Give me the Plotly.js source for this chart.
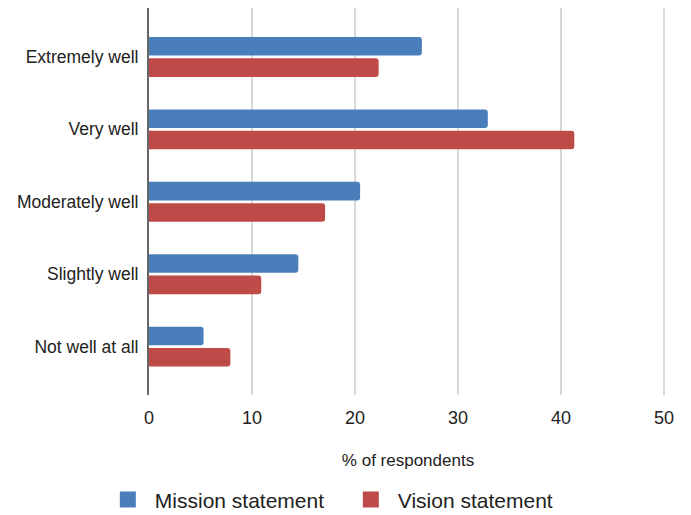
<!DOCTYPE html>
<html>
<head>
<meta charset="utf-8">
<script src="https://cdn.plot.ly/plotly-3.0.1.min.js"></script>
<style>
  html, body { margin: 0; padding: 0; background: #fff; }
  #chart { width: 691px; height: 515px; }
</style>
</head>
<body>
<div id="chart"></div>
<script>
// Survey responses: how well the statement is understood
const categories = ["Extremely well", "Very well", "Moderately well", "Slightly well", "Not well at all"];
const missionValues = [26.5, 32.9, 20.5, 14.5, 5.3];
const visionValues = [22.3, 41.3, 17.1, 10.9, 7.9];
const seriesNames = ["Mission statement", "Vision statement"];
const seriesColors = ["#4a7ebb", "#be4b48"];
const xTickValues = [0, 10, 20, 30, 40, 50];

const FONT = "Liberation Sans, Arial, Helvetica, sans-serif";

// bars
const barTraces = [missionValues, visionValues].map((vals, i) => ({
  type: "bar",
  orientation: "h",
  name: seriesNames[i],
  y: categories,
  x: vals,
  marker: { color: seriesColors[i] },
  showlegend: false,
  hoverinfo: "x+name"
}));

// square swatches for the legend
const legendTraces = seriesNames.map((name, i) => ({
  type: "scatter",
  mode: "markers",
  name: name,
  x: [null],
  y: [null],
  marker: { symbol: "square", size: 20, color: seriesColors[i] },
  hoverinfo: "skip"
}));

const layout = {
  width: 691,
  height: 515,
  margin: { l: 149, r: 24, t: 8, b: 120, autoexpand: false },
  paper_bgcolor: "#ffffff",
  plot_bgcolor: "#ffffff",
  barmode: "group",
  bargap: 0.41,
  bargroupgap: 0.13,
  barcornerradius: 3,
  font: { family: FONT, color: "#222222" },
  xaxis: {
    range: [0, 50.3],
    tickvals: xTickValues,
    ticktext: xTickValues.map(String),
    showgrid: true,
    gridcolor: "#d8d8d8",
    gridwidth: 2,
    zeroline: false,
    showline: false,
    ticks: "",
    ticklabelstandoff: 10,
    tickfont: { size: 18, color: "#222222" },
    title: { text: "% of respondents", font: { size: 17, color: "#222222" }, standoff: 27 }
  },
  yaxis: {
    type: "category",
    range: [4.668, -0.676],
    showgrid: false,
    zeroline: false,
    showline: true,
    linecolor: "#666666",
    linewidth: 2,
    ticks: "",
    ticklabelstandoff: 5,
    tickfont: { size: 17.5, color: "#222222" }
  },
  showlegend: true,
  legend: {
    orientation: "h",
    x: -0.093,
    xanchor: "left",
    y: -0.271,
    yanchor: "middle",
    font: { size: 21, color: "#222222" },
    itemwidth: 44,
    itemsizing: "trace",
    entrywidth: 184,
    traceorder: "normal"
  }
};

Plotly.newPlot("chart", barTraces.concat(legendTraces), layout, { displayModeBar: false, staticPlot: true });
</script>
</body>
</html>
